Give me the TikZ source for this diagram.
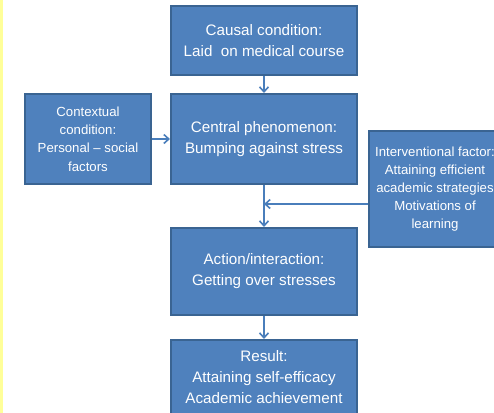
\documentclass[tikz,border=0pt]{standalone}
\usepackage{fontspec}
\setsansfont{Liberation Sans}
\usepackage{tikz}
\usetikzlibrary{arrows.meta,positioning,calc}

\definecolor{boxblue}{HTML}{4F81BD}
\definecolor{boxedge}{HTML}{3A6492}
\definecolor{arrblue}{HTML}{4A7EBB}
\definecolor{stripyellow}{HTML}{FFFF99}

\begin{document}
\begin{tikzpicture}[
  box/.style={
    draw=boxedge, line width=1pt, fill=boxblue, text=white,
    minimum width=93pt, inner sep=1pt,
    font=\fontsize{7.6}{10.5}\selectfont\sffamily, align=center
  },
  sidebox/.style={
    box, minimum width=63pt,
    font=\fontsize{6.6}{9.1}\selectfont\sffamily
  },
  arr/.style={-{Straight Barb[length=2.5pt,width=4.5pt]},line width=0.8pt,arrblue},
]
\useasboundingbox (0,0) rectangle (247pt,-206.5pt);
\clip (0,0) rectangle (247pt,-206.5pt);
\fill[white] (0,0) rectangle (247pt,-206.5pt);
\fill[stripyellow] (0,0) rectangle (1.5pt,-206.5pt);

\node[box,minimum height=34.5pt,anchor=north] (causal) at (132pt,-2.5pt)
  {Causal condition:\\Laid\ \ on medical course};
\node[box,minimum height=45pt,below=8.5pt of causal] (central)
  {Central phenomenon:\\Bumping against stress};
\node[sidebox,minimum height=45pt,left=9pt of central] (context)
  {Contextual\\condition:\\Personal -- social\\factors};
\node[sidebox,minimum width=66pt,minimum height=58pt,right=5pt of central,yshift=-25pt] (interv)
  {Interventional factor:\\Attaining efficient\\academic strategies\\Motivations of\\learning};
\node[box,minimum height=43.5pt,below=21pt of central] (action)
  {Action/interaction:\\Getting over stresses};
\node[box,minimum height=37pt,below=11.5pt of action] (result)
  {Result:\\Attaining self-efficacy\\Academic achievement};

\coordinate (ijoin) at ($(interv.west)+(0,-7.5pt)$);

\draw[arr] (causal)  -- (central);
\draw[arr] (context) -- (central);
\draw[arr] (central) -- (action);
\draw[arr] (ijoin)   -- (ijoin -| central.south);
\draw[arr] (action)  -- (result);
\end{tikzpicture}
\end{document}
